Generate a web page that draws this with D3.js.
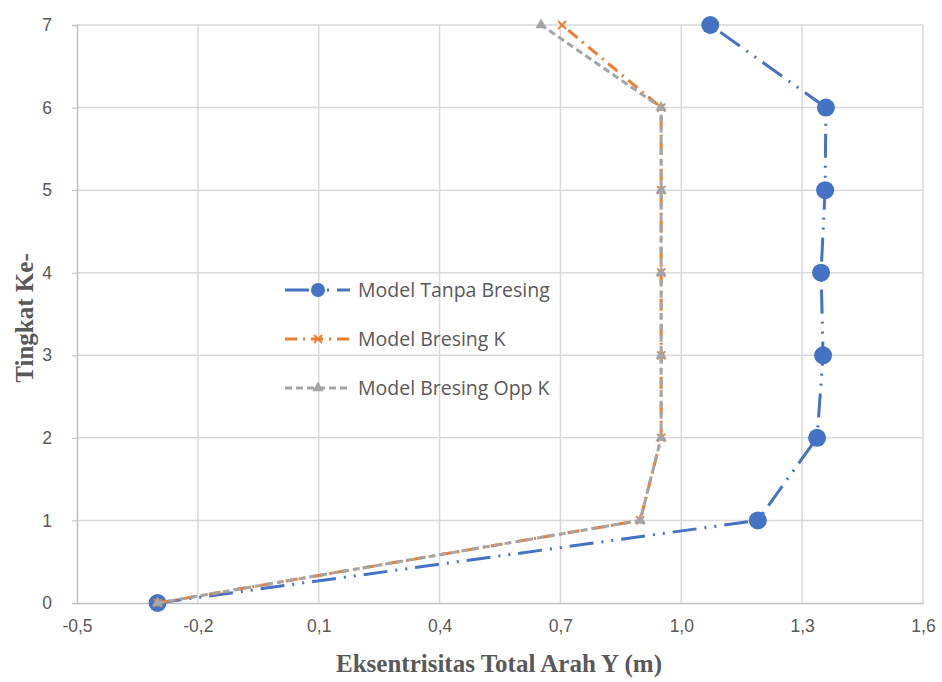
<!DOCTYPE html>
<meta charset="utf-8">
<style>
body { margin: 0; background: #fff; }
.tick text { font: 17.5px "Liberation Sans Narrow", "Liberation Sans", sans-serif; fill: #595959; }
.axis-title { font: bold 25px "Liberation Serif", serif; fill: #595959; }
.legend text { font: 19.5px "Open Sans", sans-serif; fill: #595959; }
</style>
<body>
<svg width="942" height="682"></svg>
<script src="https://cdn.jsdelivr.net/npm/d3@7"></script>
<script>
// storey levels
var tingkat = [0, 1, 2, 3, 4, 5, 6, 7];
// eccentricity values (m)
var tanpaBresing = [-0.30, 1.19, 1.337, 1.352, 1.347, 1.357, 1.359, 1.072];
var bresingK = [-0.30, 0.898, 0.95, 0.95, 0.95, 0.95, 0.95, 0.704];
var bresingOppK = [-0.30, 0.898, 0.95, 0.95, 0.95, 0.95, 0.95, 0.652];
var xTicks = [-0.5, -0.2, 0.1, 0.4, 0.7, 1.0, 1.3, 1.6];
var yTicks = [0, 1, 2, 3, 4, 5, 6, 7];

var svg = d3.select("svg"),
    margin = {top: 25, right: 19, bottom: 79, left: 77},
    width = +svg.attr("width") - margin.left - margin.right,
    height = +svg.attr("height") - margin.top - margin.bottom;

var x = d3.scaleLinear().domain([-0.5, 1.6]).range([0, width]),
    y = d3.scaleLinear().domain([0, 7]).range([height, 0]);

var g = svg.append("g")
    .attr("transform", "translate(" + margin.left + "," + margin.top + ")");

// grid
g.selectAll(".vgrid").data(xTicks.slice(1)).enter().append("line")
    .attr("x1", function(d) { return x(d); }).attr("x2", function(d) { return x(d); })
    .attr("y1", 0).attr("y2", height)
    .attr("stroke", "#d9d9d9").attr("stroke-width", 1.5);
g.selectAll(".hgrid").data(yTicks.slice(1)).enter().append("line")
    .attr("x1", 0).attr("x2", width)
    .attr("y1", function(d) { return y(d); }).attr("y2", function(d) { return y(d); })
    .attr("stroke", "#d9d9d9").attr("stroke-width", 1.5);

var fmt = function(d) { return d3.format(".1f")(d).replace(".", ",").replace("−", "-"); };

var xAxis = g.append("g")
    .attr("transform", "translate(0," + height + ")")
    .call(d3.axisBottom(x).tickValues(xTicks).tickFormat(fmt).tickSize(0).tickPadding(17));
xAxis.select(".domain").attr("stroke", "#bfbfbf").attr("stroke-width", 1.5);

var yAxis = g.append("g")
    .call(d3.axisLeft(y).tickValues(yTicks).tickFormat(d3.format("d")).tickSize(5).tickPadding(20));
yAxis.select(".domain").attr("stroke", "#bfbfbf").attr("stroke-width", 1.5);
yAxis.selectAll(".tick line").attr("stroke", "#bfbfbf");

var series = [
  {name: "Model Tanpa Bresing", values: tanpaBresing, color: "#4472c4", dash: "24,8,2,8,2,8", width: 3, marker: "circle"},
  {name: "Model Bresing K", values: bresingK, color: "#ed7d31", dash: "12,6,2,6", width: 3, marker: "x"},
  {name: "Model Bresing Opp K", values: bresingOppK, color: "#a5a5a5", dash: "7,4", width: 3, marker: "triangle"}
];

var line = d3.line()
    .x(function(d) { return x(d[0]); })
    .y(function(d) { return y(d[1]); });

function drawMarker(sel, s, cx, cy, r) {
  if (s.marker === "circle") {
    sel.append("circle").attr("cx", cx).attr("cy", cy).attr("r", r).attr("fill", s.color);
  } else if (s.marker === "x") {
    sel.append("path").attr("d", "M" + (cx - 4) + "," + (cy - 4) + "L" + (cx + 4) + "," + (cy + 4) +
        "M" + (cx - 4) + "," + (cy + 4) + "L" + (cx + 4) + "," + (cy - 4))
      .attr("stroke", s.color).attr("stroke-width", 1.8);
  } else {
    sel.append("path").attr("d", d3.symbol().type(d3.symbolTriangle).size(55)())
      .attr("transform", "translate(" + cx + "," + cy + ")").attr("fill", s.color);
  }
}

series.forEach(function(s) {
  var pts = s.values.map(function(v, i) { return [v, tingkat[i]]; });
  g.append("path").datum(pts)
    .attr("d", line)
    .attr("fill", "none")
    .attr("stroke", s.color)
    .attr("stroke-width", s.width)
    .attr("stroke-dasharray", s.dash);
  pts.forEach(function(p) { drawMarker(g, s, x(p[0]), y(p[1]), 9); });
});

// legend
var legend = svg.append("g").attr("class", "legend");
series.forEach(function(s, i) {
  var ly = 290 + i * 49;
  legend.append("line").attr("x1", 285).attr("x2", 350).attr("y1", ly).attr("y2", ly)
    .attr("stroke", s.color).attr("stroke-width", s.width).attr("stroke-dasharray", s.dash);
  drawMarker(legend, s, 318, ly, 7);
  legend.append("text").attr("x", 358).attr("y", ly).attr("dy", "0.35em").text(s.name);
});

// axis titles
svg.append("text").attr("class", "axis-title")
    .attr("x", 499).attr("y", 672)
    .attr("text-anchor", "middle")
    .text("Eksentrisitas Total Arah Y (m)");
svg.append("text").attr("class", "axis-title")
    .attr("transform", "translate(33," + (margin.top + height / 2 + 4) + ") rotate(-90)")
    .attr("text-anchor", "middle")
    .text("Tingkat Ke-");
</script>
</body>
